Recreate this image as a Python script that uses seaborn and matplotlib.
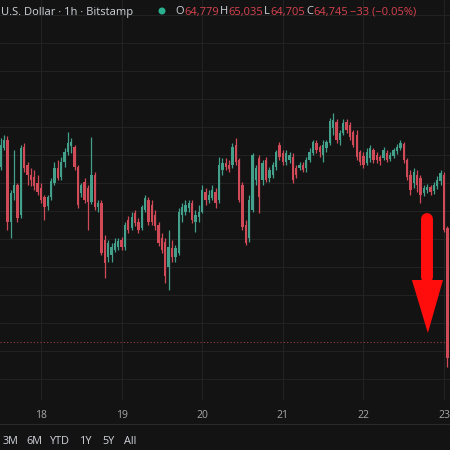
import numpy as np
import pandas as pd
import matplotlib
matplotlib.use("Agg")
import matplotlib.pyplot as plt
import seaborn as sns
from matplotlib.lines import Line2D
from matplotlib.patches import Polygon, Circle

# ---------------- data (BTC / USD, 1h candles, Bitstamp) ----------------
# hour offset of each candle relative to day 18, 00:00
hours = list(range(-12, 122))

opens = [66330, 66520, 66600, 65780, 66070, 66150, 65850, 66530, 66350, 66250, 66230, 66170,
         66120, 66030, 65940, 66030, 66170, 66320, 66230, 66380, 66480, 66540, 66530, 66330,
         66070, 66180, 66120, 65980, 66250, 65930, 65970, 65600, 65430, 65450, 65500, 65530,
         65600, 65530, 65800, 65720, 65870, 65780, 65720, 65900, 66000, 65950, 65850, 65750,
         65620, 65580, 65330, 65520, 65430, 65470, 65850, 65880, 65920, 65970, 65780, 65830,
         65880, 66080, 66000, 66020, 66080, 66000, 66300, 66370, 66350, 66350, 66550, 66400,
         66150, 65750, 65620, 65900, 66200, 66420, 66200, 66400, 66220, 66250, 66330, 66550,
         66470, 66380, 66400, 66430, 66320, 66320, 66350, 66320, 66400, 66470, 66570, 66530,
         66450, 66520, 66570, 66720, 66780, 66600, 66670, 66780, 66750, 66680, 66650, 66480,
         66440, 66370, 66420, 66500, 66450, 66430, 66420, 66470, 66410, 66440, 66490, 66520,
         66560, 66400, 66250, 66170, 66250, 66220, 66070, 66100, 66130, 66090, 66140, 66190,
         66250, 65720]

highs = [66620, 66650, 66640, 66100, 66500, 66170, 66550, 66570, 66380, 66320, 66300, 66250,
         66170, 66050, 66050, 66220, 66380, 66400, 66430, 66520, 66680, 66620, 66550, 66350,
         66170, 66220, 66150, 66630, 66280, 66000, 66000, 65650, 65600, 65570, 65620, 65620,
         65630, 65780, 65840, 65880, 65900, 65820, 65950, 66050, 66030, 66000, 65900, 65780,
         65670, 65620, 65700, 65600, 65550, 65920, 65970, 66000, 66000, 66000, 65900, 65950,
         66150, 66120, 66100, 66150, 66120, 66430, 66420, 66420, 66400, 66570, 66620, 66420,
         66180, 65800, 66050, 66470, 66350, 66450, 66400, 66430, 66330, 66380, 66500, 66580,
         66500, 66500, 66480, 66470, 66350, 66380, 66380, 66430, 66520, 66600, 66600, 66550,
         66600, 66600, 66820, 66870, 66810, 66700, 66810, 66810, 66780, 66700, 66700, 66500,
         66480, 66520, 66550, 66520, 66480, 66450, 66530, 66500, 66480, 66520, 66560, 66600,
         66580, 66420, 66300, 66320, 66300, 66250, 66150, 66160, 66150, 66180, 66240, 66300,
         66280, 65740]

lows = [66300, 66500, 65700, 65620, 66000, 65780, 65820, 66280, 66150, 66140, 66100, 66050,
        65970, 65800, 65900, 66000, 66150, 66200, 66200, 66330, 66450, 66470, 66300, 65920,
        66030, 65970, 65700, 65960, 65900, 65880, 65450, 65220, 65380, 65380, 65480, 65500,
        65500, 65500, 65670, 65700, 65740, 65670, 65700, 65880, 65750, 65750, 65700, 65540,
        65470, 65170, 65100, 65380, 65380, 65450, 65780, 65850, 65880, 65770, 65680, 65780,
        65870, 65950, 65970, 66000, 65920, 65970, 66250, 66300, 66280, 66320, 66350, 65980,
        65700, 65550, 65580, 65880, 66150, 65870, 66150, 66180, 66180, 66220, 66300, 66400,
        66350, 66350, 66370, 66170, 66220, 66300, 66280, 66280, 66380, 66450, 66470, 66430,
        66380, 66480, 66550, 66650, 66570, 66550, 66650, 66670, 66600, 66530, 66400, 66350,
        66320, 66350, 66380, 66370, 66370, 66350, 66400, 66380, 66390, 66420, 66460, 66500,
        66370, 66200, 66050, 66120, 66080, 65970, 66040, 66070, 66050, 66060, 66110, 66150,
        65680, 64330]

closes = [66550, 66600, 65780, 66070, 66150, 65820, 66520, 66320, 66250, 66200, 66140, 66080,
          66000, 65930, 66030, 66190, 66320, 66220, 66380, 66480, 66570, 66580, 66330, 65950,
          66150, 66000, 65980, 66250, 65930, 65970, 65470, 65370, 65570, 65530, 65570, 65590,
          65530, 65750, 65700, 65830, 65770, 65700, 65930, 66020, 65780, 65780, 65740, 65570,
          65500, 65240, 65530, 65430, 65520, 65880, 65930, 65950, 65970, 65800, 65850, 65880,
          66100, 66000, 66050, 66100, 65970, 66350, 66370, 66330, 66310, 66530, 66380, 66000,
          65730, 65570, 66000, 66450, 66320, 66030, 66370, 66200, 66300, 66350, 66480, 66430,
          66380, 66470, 66450, 66200, 66250, 66350, 66300, 66400, 66480, 66580, 66500, 66480,
          66550, 66580, 66790, 66800, 66600, 66670, 66770, 66700, 66630, 66550, 66430, 66380,
          66350, 66480, 66520, 66400, 66400, 66390, 66500, 66400, 66450, 66500, 66530, 66570,
          66400, 66230, 66100, 66280, 66150, 66050, 66120, 66130, 66080, 66150, 66200, 66270,
          65700, 64420]

day_hours = [0, 24, 48, 72, 96, 120]
day_labels = ["18", "19", "20", "21", "22", "23"]
price_line = 64580

header_title = "U.S. Dollar · 1h · Bitstamp"
header_ohlc = [("O", "64,779"), ("H", "65,035"), ("L", "64,705"), ("C", "64,745")]
header_change = "\u221233 (\u22120.05%)"
range_buttons = ["3M", "6M", "YTD", "1Y", "5Y", "All"]

# ---------------- style ----------------
BG = "#131313"
GRID = "#222222"
UP = "#42a08b"
DOWN = "#d04b57"
TXT = "#d1d4dc"
AXTXT = "#a8a8a8"
RED = "#d9434f"

sns.set_theme(style="dark", rc={
    "axes.facecolor": BG, "figure.facecolor": BG, "savefig.facecolor": BG,
    "grid.color": GRID, "axes.edgecolor": BG,
})
plt.rcParams["font.family"] = ["Open Sans", "DejaVu Sans"]

df = pd.DataFrame({"hour": hours, "open": opens, "high": highs,
                   "low": lows, "close": closes})
df["color"] = np.where(df["close"] >= df["open"], UP, DOWN)

W, H = 450, 450
fig = plt.figure(figsize=(4.5, 4.5), dpi=100)
ax = fig.add_axes([0, 50 / H, 1, 400 / H])
ax.set_xlim(-12.21, 121.79)
ax.set_ylim(64000, 68000)

# grid
ax.set_xticks(day_hours, day_labels)
ax.set_yticks(np.arange(64210, 68000, 280))
ax.set_yticklabels([])
ax.grid(True, color=GRID, lw=0.8)
ax.set_axisbelow(True)
ax.tick_params(axis="x", length=0, pad=7, labelsize=7.5, labelcolor=AXTXT)
ax.tick_params(axis="y", length=0)
for s in ax.spines.values():
    s.set_visible(False)

# candles
ax.vlines(df["hour"], df["low"], df["high"], colors=df["color"], lw=0.9, zorder=2)
ax.bar(df["hour"], df["close"] - df["open"], bottom=df["open"], width=0.7,
       color=df["color"], lw=0, zorder=3)

# current price dotted line
ax.axhline(price_line, color="#9a3d48", lw=0.8, ls=(0, (1, 2)), zorder=1)

# red annotation arrow (overlay)
ax.plot([115.0, 115.0], [65810, 65230], color="#ff0d0d", lw=8.6,
        solid_capstyle="round", zorder=5)
ax.add_patch(Polygon([[110.45, 65200], [119.7, 65200], [115.2, 64670]],
                     closed=True, color="#ff0d0d", lw=0, zorder=5))

# ---------------- header ----------------
def fx(px):
    return px / W

def fy(py):
    return 1 - py / H

fig.text(fx(1), fy(12), header_title, color=TXT, fontsize=8, va="center", ha="left")
fig.add_artist(Circle((fx(162), fy(11)), 3.5 / W, transform=fig.transFigure,
                      color="#2bb08f", lw=0))

renderer = fig.canvas.get_renderer()
ohlc_x = [175, 220, 264, 306]
for (lbl, val), x0 in zip(header_ohlc, ohlc_x):
    t = fig.text(fx(x0), fy(12), lbl, color=TXT, fontsize=8, va="center", ha="left")
    bb = t.get_window_extent(renderer=renderer)
    fig.text(fx(bb.x1 + 0.5), fy(12), val, color=RED, fontsize=8, va="center", ha="left")
fig.text(fx(350), fy(12), header_change, color=RED, fontsize=8, va="center", ha="left")

# separator and range buttons
fig.add_artist(Line2D([0, 1], [fy(424), fy(424)], color="#2a2a2a", lw=0.8))
btn_x = [3, 26, 50, 80, 102, 124]
for lbl, x0 in zip(range_buttons, btn_x):
    fig.text(fx(x0), fy(441), lbl, color=TXT, fontsize=7.8, va="center", ha="left")

fig.savefig("out.png", dpi=100, facecolor=BG)
